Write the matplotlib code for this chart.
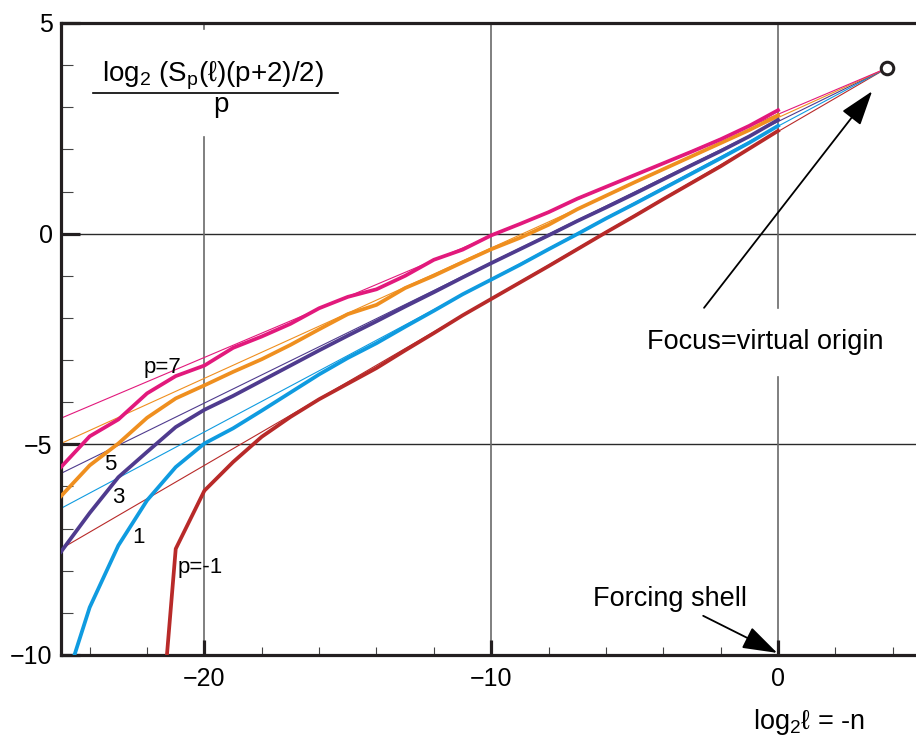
import matplotlib
matplotlib.use('Agg')
import matplotlib.pyplot as plt
from matplotlib.ticker import MultipleLocator

plt.rcParams['font.family'] = ['Liberation Sans', 'DejaVu Sans']
plt.rcParams['mathtext.fontset'] = 'custom'
plt.rcParams['mathtext.rm'] = 'Liberation Sans'
plt.rcParams['mathtext.it'] = 'Liberation Sans'
plt.rcParams['mathtext.bf'] = 'Liberation Sans:bold'

# ---------------- data ----------------
x_shell = list(range(-25, 1))          # log2 l = -n
s_p7 = [-5.54, -4.81, -4.41, -3.79, -3.38, -3.13, -2.71, -2.44, -2.14, -1.77,
        -1.50, -1.32, -1.00, -0.62, -0.38, -0.04, 0.23, 0.51, 0.83, 1.11,
        1.39, 1.67, 1.95, 2.24, 2.56, 2.93]
s_p5 = [-6.23, -5.50, -4.98, -4.37, -3.91, -3.60, -3.28, -2.98, -2.64, -2.27,
        -1.91, -1.69, -1.29, -1.00, -0.68, -0.37, -0.10, 0.21, 0.58, 0.90,
        1.22, 1.53, 1.84, 2.15, 2.46, 2.81]
s_p3 = [-7.55, -6.63, -5.78, -5.18, -4.59, -4.18, -3.85, -3.49, -3.13, -2.77,
        -2.42, -2.08, -1.73, -1.39, -1.04, -0.70, -0.37, -0.04, 0.30, 0.62,
        0.95, 1.29, 1.63, 1.96, 2.31, 2.70]
s_p1 = [-11.0, -8.87, -7.40, -6.33, -5.54, -4.98, -4.62, -4.20, -3.77, -3.34,
        -2.95, -2.60, -2.21, -1.83, -1.44, -1.09, -0.74, -0.37, -0.01, 0.36,
        0.71, 1.07, 1.43, 1.79, 2.16, 2.56]
x_pm1 = list(range(-22, 1))
s_pm1 = [-15.7, -7.48, -6.10, -5.42, -4.82, -4.35, -3.93, -3.56, -3.19, -2.77,
         -2.36, -1.94, -1.55, -1.16, -0.77, -0.37, 0.03, 0.42, 0.82, 1.21,
         1.60, 2.02, 2.44]

# virtual origin (focus) and the straight fits through it, value at x = -25
focus_x, focus_y = 3.8, 3.93
fit_x0 = -25
fit_at_x0 = {'7': -4.38, '5': -4.98, '3': -5.69, '1': -6.52, '-1': -7.48}

colors = {'7': '#e2197c', '5': '#ef8f1f', '3': '#4f3b8e', '1': '#0f9be0', '-1': '#b82a29'}
series = [('-1', x_pm1, s_pm1), ('1', x_shell, s_p1), ('3', x_shell, s_p3),
          ('5', x_shell, s_p5), ('7', x_shell, s_p7)]

xticks = [-20, -10, 0]
yticks = [-10, -5, 0, 5]

# ---------------- figure ----------------
fig = plt.figure(figsize=(9.16, 7.44), dpi=100)
ax = fig.add_axes([61/916, 1 - 655/744, 1 - 61/916, (655 - 23)/744])
ax.set_xlim(-25, 4.81)
ax.set_ylim(-10, 5)

ink = '#231f20'
# grid lines
ax.axhline(0, color='#2a2a2a', lw=1.0, zorder=1)
ax.axhline(-5, color='#2a2a2a', lw=1.0, zorder=1)
ax.axvline(-10, color='#6a6a6a', lw=1.2, zorder=1)
ax.plot([-20, -20], [-10, 2.29], color='#6a6a6a', lw=1.2, zorder=1)
ax.plot([-20, -20], [4.86, 5], color='#6a6a6a', lw=1.2, zorder=1)
ax.plot([0, 0], [5, -1.76], color='#6a6a6a', lw=1.2, zorder=1)
ax.plot([0, 0], [-3.40, -10], color='#6a6a6a', lw=1.2, zorder=1)

# straight fits through focus
for key, _, _ in series:
    ax.plot([fit_x0, focus_x], [fit_at_x0[key], focus_y], color=colors[key],
            lw=0.8, zorder=2, solid_capstyle='butt')

# thick data curves
for key, xs, ys in series:
    ax.plot(xs, ys, color=colors[key], lw=2.7, zorder=3, solid_joinstyle='round')

ax.plot(focus_x, focus_y, 'o', mfc='white', mec=ink, ms=9, mew=2.2,
        zorder=6, clip_on=False)

# spines & ticks
ax.spines['right'].set_visible(False)
for s in ('left', 'bottom', 'top'):
    ax.spines[s].set_linewidth(2.3)
    ax.spines[s].set_color(ink)

def lab(v):
    return str(v).replace('-', '\u2212')

ax.set_xticks(xticks)
ax.set_xticklabels([lab(v) for v in xticks])
ax.set_yticks(yticks)
ax.set_yticklabels([lab(v) for v in yticks])
ax.xaxis.set_minor_locator(MultipleLocator(2))
ax.yaxis.set_minor_locator(MultipleLocator(1))
ax.tick_params(axis='y', which='major', direction='in', length=14, width=2.3,
               color=ink, labelsize=18, pad=6, right=False)
ax.tick_params(axis='y', which='minor', direction='in', length=8.5, width=0.8,
               color='#444444', right=False)
ax.tick_params(axis='x', which='major', direction='in', length=11, width=2.3,
               color=ink, labelsize=18, pad=9, top=False)
ax.tick_params(axis='x', which='minor', direction='in', length=6, width=0.8,
               color='#444444', top=False)

# y-quantity label (fraction)
ax.text(-19.69, 3.62, r'log$_{2}$ (S$_{p}$(ℓ)(p+2)/2)', ha='center', va='baseline',
        fontsize=20, color='black')
ax.plot([-23.9, -15.33], [3.33, 3.33], color='black', lw=1.2)
ax.text(-19.44, 2.88, 'p', ha='center', va='baseline', fontsize=20, color='black')

# curve labels
ax.text(-21.46, -3.31, 'p=7', ha='center', va='baseline', fontsize=16)
ax.text(-23.28, -5.62, '5', ha='center', va='baseline', fontsize=16)
ax.text(-23.0, -6.40, '3', ha='center', va='baseline', fontsize=16)
ax.text(-22.3, -7.33, '1', ha='center', va='baseline', fontsize=16)
ax.text(-20.14, -8.05, 'p=-1', ha='center', va='baseline', fontsize=16)

# annotations
ax.text(-0.45, -2.57, 'Focus=virtual origin', ha='center', va='center', fontsize=19.5)
ax.annotate('', xy=(3.28, 3.38), xytext=(-2.58, -1.76),
            arrowprops=dict(arrowstyle='-|>,head_length=0.9,head_width=0.3',
                            mutation_scale=24, lw=1.3, color='black',
                            shrinkA=0, shrinkB=0))
ax.text(-3.76, -8.67, 'Forcing shell', ha='center', va='center', fontsize=19.5)
ax.annotate('', xy=(-0.03, -9.95), xytext=(-2.61, -9.07),
            arrowprops=dict(arrowstyle='-|>,head_length=0.9,head_width=0.3',
                            mutation_scale=24, lw=1.3, color='black',
                            shrinkA=0, shrinkB=0))
ax.text(1.08, -11.76, r'log$_{2}$ℓ = -n', ha='center', va='baseline', fontsize=19.5,
        clip_on=False)

fig.savefig('out.png', dpi=100)
